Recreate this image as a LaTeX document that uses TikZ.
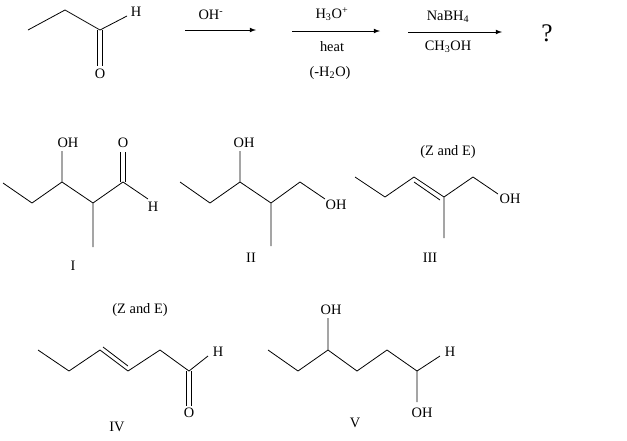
\documentclass[tikz,border=0pt]{standalone}
\usepackage{fontspec}
\setmainfont{Liberation Serif}
\usetikzlibrary{calc}
\begin{document}
\begin{tikzpicture}[x=0.75pt,y=-0.75pt,font=\fontsize{10.8}{13}\selectfont,
  bond/.style={line width=0.6pt},
  lbl/.style={inner sep=0.5pt},
  rxn/.style={line width=0.6pt,-latex}]
\useasboundingbox (0,0) rectangle (627,440);
% starting material
\coordinate (a1) at (28,30); \coordinate (a2) at (65,10); \coordinate (a3) at (100,30);
\coordinate (a4) at (127,16); \coordinate (a5) at (100,66);
\node[lbl] (aH) at (136,12) {H}; \node[lbl] (aO) at (100,74) {O};
\draw[bond] (a1)--(a2)--(a3)--(a4);
\draw[bond] ([xshift=-2]a3)--([xshift=-2]a5) ([xshift=2]a3)--([xshift=2]a5);
% arrows
\coordinate (r1s) at (185,30); \coordinate (r1e) at (256,30);
\draw[rxn] (r1s)--(r1e); \node[lbl] (r1t) at (211,15) {OH\textsuperscript{-}};
\coordinate (r2s) at (292,31); \coordinate (r2e) at (380,31);
\draw[rxn] (r2s)--(r2e);
\node[lbl] (r2a) at (332,14) {H\textsubscript{3}O\textsuperscript{+}};
\node[lbl] (r2b) at (332,47) {heat};
\node[lbl] (r2c) at (330,73) {(-H\textsubscript{2}O)};
\coordinate (r3s) at (408,32); \coordinate (r3e) at (502,32);
\draw[rxn] (r3s)--(r3e);
\node[lbl] (r3a) at (448,17) {NaBH\textsubscript{4}};
\node[lbl] (r3b) at (448,47) {CH\textsubscript{3}OH};
\node[lbl,font=\fontsize{19}{21}\selectfont] (q) at (547,33) {?};
% I
\coordinate (b1) at (3,183); \coordinate (b2) at (32,203); \coordinate (b3) at (62,182);
\coordinate (b4) at (93,203); \coordinate (b5) at (123,182); \coordinate (b6) at (148,199);
\coordinate (b7) at (93,247); \coordinate (b8) at (62,151); \coordinate (b9) at (123,152);
\node[lbl] (bOH) at (68,143) {OH}; \node[lbl] (bO) at (123,143) {O}; \node[lbl] (bH) at (153,207) {H};
\draw[bond] (b1)--(b2)--(b3)--(b4)--(b5)--(b6) (b4)--(b7) (b3)--(b8);
\draw[bond] ([xshift=-2]b5)--([xshift=-2]b9) ([xshift=2]b5)--([xshift=2]b9);
\node[lbl] (bL) at (73,266) {I};
% II
\coordinate (c1) at (180,182); \coordinate (c2) at (210,203); \coordinate (c3) at (240,182);
\coordinate (c4) at (271,203); \coordinate (c5) at (300,182); \coordinate (c6) at (325,199);
\coordinate (c7) at (271,246); \coordinate (c8) at (240,151);
\node[lbl] (cOH) at (244,143) {OH}; \node[lbl] (cOH2) at (336,205) {OH};
\draw[bond] (c1)--(c2)--(c3)--(c4)--(c5)--(c6) (c4)--(c7) (c3)--(c8);
\node[lbl] (cL) at (251,258) {II};
% III
\coordinate (d1) at (355,177); \coordinate (d2) at (385,197); \coordinate (d3) at (414,177);
\coordinate (d4) at (444,197); \coordinate (d5) at (473,177); \coordinate (d6) at (498,194);
\coordinate (d7) at (444,238);
\node[lbl] (dOH) at (510,199) {OH}; \node[lbl] (dZE) at (448,152) {(Z and E)};
\draw[bond] (d1)--(d2)--(d3)--(d4)--(d5)--(d6) (d4)--(d7);
\draw[bond] ($(d3)+(0,5)$)--($(d4)+(-4,3)$);
\node[lbl] (dL) at (430,258) {III};
% IV
\coordinate (e1) at (38,350); \coordinate (e2) at (69,371); \coordinate (e3) at (100,350);
\coordinate (e4) at (128,371); \coordinate (e5) at (160,350); \coordinate (e6) at (189,371);
\coordinate (e7) at (208,356); \coordinate (e8) at (189,406);
\node[lbl] (eH) at (218,352) {H}; \node[lbl] (eO) at (189,413) {O};
\node[lbl] (eZE) at (140,310) {(Z and E)};
\draw[bond] (e1)--(e2)--(e3)--(e4)--(e5)--(e6)--(e7);
\draw[bond] ($(e3)+(3,-3)$)--($(e4)+(0,-5)$);
\draw[bond] ([xshift=-2]e6)--([xshift=-2]e8) ([xshift=2]e6)--([xshift=2]e8);
\node[lbl] (eL) at (117,427) {IV};
% V
\coordinate (f1) at (268,350); \coordinate (f2) at (298,371); \coordinate (f3) at (328,350);
\coordinate (f4) at (357,371); \coordinate (f5) at (387,350); \coordinate (f6) at (417,371);
\coordinate (f7) at (440,356); \coordinate (f8) at (417,402); \coordinate (f9) at (328,318);
\node[lbl] (fOH) at (331,310) {OH}; \node[lbl] (fH) at (450,352) {H}; \node[lbl] (fOH2) at (422,413) {OH};
\draw[bond] (f1)--(f2)--(f3)--(f4)--(f5)--(f6)--(f7) (f6)--(f8) (f3)--(f9);
\node[lbl] (fL) at (355,423) {V};
\end{tikzpicture}
\end{document}
